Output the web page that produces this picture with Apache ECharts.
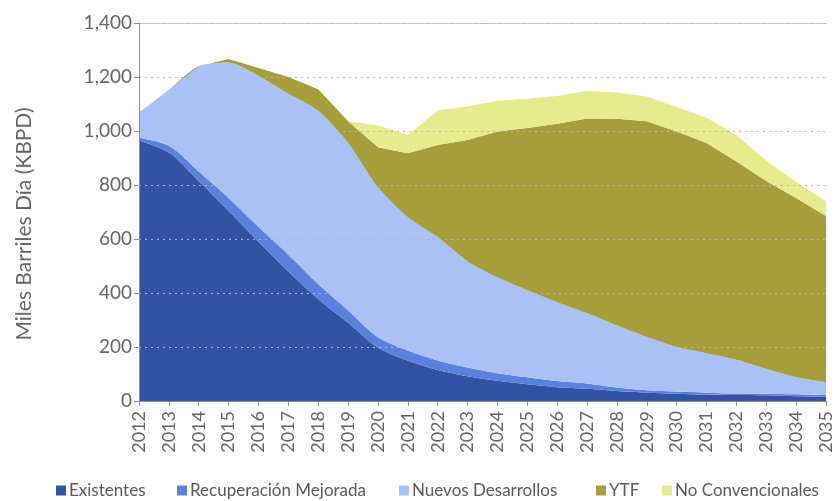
<!DOCTYPE html>
<html>
<head>
<meta charset="utf-8">
<script src="https://cdn.jsdelivr.net/npm/echarts@6/dist/echarts.min.js"></script>
<style>
  html, body { margin: 0; padding: 0; background: #ffffff; }
  #chart { width: 835px; height: 501px; }
</style>
</head>
<body>
<div id="chart"></div>
<script>
// Production forecast, thousands of barrels per day (stacked areas)
const years = ['2012','2013','2014','2015','2016','2017','2018','2019','2020','2021','2022','2023',
               '2024','2025','2026','2027','2028','2029','2030','2031','2032','2033','2034','2035'];

const existentes    = [965, 920, 815, 705, 590, 480, 378, 290, 198, 150, 115, 92, 75, 62, 51, 45, 37, 31, 27, 24, 22, 21, 18, 17];
const recuperacion  = [10, 25, 35, 47, 55, 62, 55, 45, 38, 37, 35, 32, 28, 26, 23, 20, 13, 9, 8, 7, 6, 6, 7, 5];
const nuevos        = [93, 208, 390, 502, 560, 596, 642, 621, 556, 494, 457, 393, 355, 322, 292, 260, 230, 198, 165, 146, 125, 92, 63, 48];
const ytf           = [0, 0, 0, 13, 28, 62, 80, 80, 148, 237, 341, 450, 540, 601, 661, 721, 765, 798, 798, 779, 734, 696, 664, 615];
const noConv        = [0, 0, 0, 0, 0, 0, 0, 0, 80, 67, 128, 124, 114, 108, 103, 103, 98, 92, 91, 93, 98, 75, 59, 55];

const yTicks = { min: 0, max: 1400, step: 200 };

const FONT = 'Lato, "Noto Sans", sans-serif';
const GREY = '#666666';

const seriesDefs = [
  { name: 'Existentes',             data: existentes,   color: '#3252a4', smooth: 0.3 },
  { name: 'Recuperación Mejorada',  data: recuperacion, color: '#5b80de', smooth: 0.3 },
  { name: 'Nuevos Desarrollos',     data: nuevos,       color: '#aac1f6', smooth: 0.25 },
  { name: 'YTF',                    data: ytf,          color: '#a69d3b', smooth: 0 },
  { name: 'No Convencionales',      data: noConv,       color: '#e8ea8e', smooth: 0 }
];

// one legend block per entry so the spacing follows the layout
const legendLefts = [56, 177, 399, 596, 662];

const chart = echarts.init(document.getElementById('chart'), null, { renderer: 'canvas' });

chart.setOption({
  animation: false,
  backgroundColor: '#ffffff',
  color: seriesDefs.map(s => s.color),
  grid: { left: 139, right: 2, top: 23, bottom: 100, containLabel: false },
  legend: seriesDefs.map((s, i) => ({
    data: [s.name],
    left: legendLefts[i],
    top: 482,
    icon: 'rect',
    itemWidth: 10,
    itemHeight: 10,
    itemGap: 0,
    padding: 0,
    textStyle: { fontFamily: FONT, fontSize: 17, color: '#5a5a5a', padding: [0, 0, 0, -2] }
  })),
  xAxis: [
    {
      type: 'category',
      data: years,
      boundaryGap: false,
      axisLine: { show: true, lineStyle: { color: '#8c909a', width: 1 } },
      axisTick: { show: true, length: 5, lineStyle: { color: '#8c909a' } },
      axisLabel: { rotate: 90, margin: 10, fontFamily: FONT, fontSize: 18, color: GREY },
      z: 5
    },
    {
      // thin frame line along the top of the plot
      type: 'category',
      data: years,
      position: 'top',
      boundaryGap: false,
      axisLine: { show: true, lineStyle: { color: '#c9cbd0', width: 1 } },
      axisTick: { show: false },
      axisLabel: { show: false }
    }
  ],
  yAxis: {
    type: 'value',
    min: yTicks.min,
    max: yTicks.max,
    interval: yTicks.step,
    name: 'Miles Barriles Día (KBPD)',
    nameLocation: 'middle',
    nameGap: 104,
    nameRotate: 90,
    nameTextStyle: { fontFamily: FONT, fontSize: 21, color: GREY, padding: [0, 24, 0, 0] },
    axisLine: { show: true, lineStyle: { color: '#8c909a', width: 1 } },
    axisTick: { show: true, length: 5, lineStyle: { color: '#8c909a' } },
    axisLabel: {
      margin: 7,
      fontFamily: FONT,
      fontSize: 19,
      color: GREY,
      formatter: v => v.toLocaleString('en-US')
    },
    splitLine: { show: true, lineStyle: { color: '#b4b6bc', type: [2, 4], width: 1 } },
    z: 5
  },
  series: seriesDefs.map(s => ({
    name: s.name,
    type: 'line',
    stack: 'total',
    data: s.data,
    smooth: s.smooth,
    symbol: 'none',
    lineStyle: { width: 0 },
    areaStyle: { color: s.color, opacity: 1 },
    itemStyle: { color: s.color },
    emphasis: { disabled: true }
  }))
});
</script>
</body>
</html>
